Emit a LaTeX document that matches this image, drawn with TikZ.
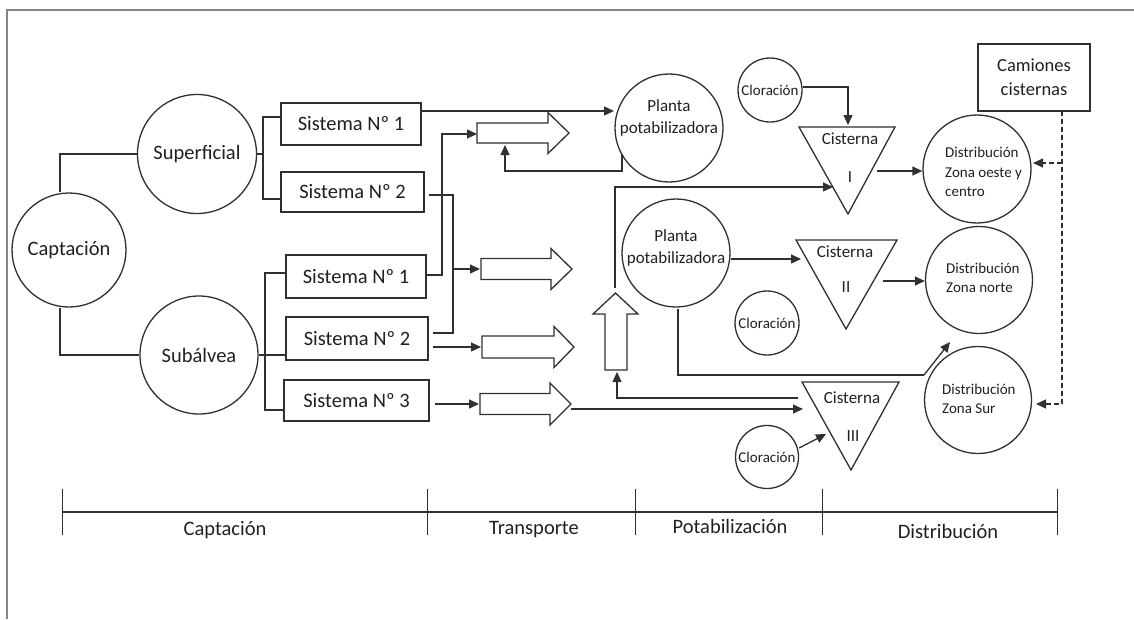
\documentclass[tikz,border=0pt]{standalone}
\usepackage{fontspec}
\setmainfont{Carlito}
\usetikzlibrary{arrows.meta}
\definecolor{lc}{HTML}{303030}
\definecolor{tc}{HTML}{202020}
\definecolor{fr}{HTML}{858585}
\newcommand\fsMain{\fontsize{20.5}{24}\selectfont}
\newcommand\fsPlanta{\fontsize{17}{22}\selectfont}
\newcommand\fsCis{\fontsize{17}{20}\selectfont}
\newcommand\fsClo{\fontsize{15}{18}\selectfont}
\newcommand\fsDist{\fontsize{15}{19.5}\selectfont}
\newcommand\fsCam{\fontsize{18.5}{24}\selectfont}
\begin{document}
\begin{tikzpicture}[x=1pt,y=-1pt,
  ln/.style={draw=lc, line width=1.3pt},
  arr/.style={ln, -{Triangle[length=10pt,width=9pt]}},
  darr/.style={ln, dash pattern=on 5pt off 3pt, -{Triangle[length=10pt,width=9pt]}},
  circ/.style={circle, draw=lc, line width=1.3pt, inner sep=0pt, text=tc},
  sbox/.style={rectangle, draw=lc, line width=1.3pt, inner sep=0pt, text=tc, font=\fsMain},
  blk/.style={draw=lc, line width=1.3pt, fill=white},
  txt/.style={inner sep=0pt, text=tc}]
\useasboundingbox (0,0) rectangle (1134,619);
% frame
\draw[fr, line width=2pt] (7,619) -- (7,10) -- (1134,10);

% capture nodes
\node[circ, minimum size=114pt, font=\fsMain] (cap) at (69,250) {Captación};
\node[circ, minimum size=119pt, font=\fsMain] (sup) at (197,154) {Superficial};
\node[circ, minimum size=118pt, font=\fsMain] (sub) at (199,355) {Subálvea};
\node[sbox, minimum width=140pt, minimum height=42pt] (s1) at (351,124) {Sistema Nº 1};
\node[sbox, minimum width=143pt, minimum height=40pt] (s2) at (352.5,192) {Sistema Nº 2};
\node[sbox, minimum width=140pt, minimum height=43pt] (t1) at (356,276.5) {Sistema Nº 1};
\node[sbox, minimum width=142pt, minimum height=43pt] (t2) at (357,338.5) {Sistema Nº 2};
\node[sbox, minimum width=145pt, minimum height=41pt] (t3) at (356.5,400.5) {Sistema Nº 3};

% plants
\node[circ, minimum size=108pt] (pl1) at (669,128) {};
\node[txt, align=center, font=\fsPlanta] (pl1t) at (669,118) {Planta\\potabilizadora};
\node[circ, minimum size=108pt] (pl2) at (676,253) {};
\node[txt, align=center, font=\fsPlanta] (pl2t) at (676,248) {Planta\\potabilizadora};

% cloracion
\node[circ, minimum size=64pt, font=\fsClo] (cl1) at (770,90) {Cloración};
\node[circ, minimum size=64pt, font=\fsClo] (cl2) at (767,323) {Cloración};
\node[circ, minimum size=63pt, font=\fsClo] (cl3) at (767,457) {Cloración};

% cisternas (inverted triangles)
\draw[ln] (799,127) -- (895,127) -- (848,214) -- cycle;
\draw[ln] (796,240) -- (897,240) -- (846,329) -- cycle;
\draw[ln] (802,382) -- (899,382) -- (851,470) -- cycle;
\node[txt, font=\fsCis] (cis1) at (850,139) {Cisterna};
\node[txt, font=\fsCis] (cis1n) at (850,177) {I};
\node[txt, font=\fsCis] (cis2) at (845,252) {Cisterna};
\node[txt, font=\fsCis] (cis2n) at (846,287) {II};
\node[txt, font=\fsCis] (cis3) at (852,398) {Cisterna};
\node[txt, font=\fsCis] (cis3n) at (853,436) {III};

% distribution
\node[circ, minimum size=108pt] (d1) at (977,169) {};
\node[txt, align=left, anchor=west, font=\fsDist] (d1t) at (945,172) {Distribución\\Zona oeste y\\centro};
\node[circ, minimum size=107pt] (d2) at (979,280) {};
\node[txt, align=left, anchor=west, font=\fsDist] (d2t) at (946,278) {Distribución\\Zona norte};
\node[circ, minimum size=107pt] (d3) at (978,400) {};
\node[txt, align=left, anchor=west, font=\fsDist] (d3t) at (942,399) {Distribución\\Zona Sur};

% camiones
\node[sbox, font=\fsCam, align=center, minimum width=112pt, minimum height=67pt] (cam) at (1034,77.5) {Camiones\\cisternas};

% block arrows
\draw[blk] (477,123) -- (548,123) -- (548,112.5) -- (569,133) -- (548,153.5) -- (548,143) -- (477,143) -- cycle;
\draw[blk] (481,258.5) -- (551,258.5) -- (551,248.5) -- (572,269) -- (551,289.5) -- (551,279.5) -- (481,279.5) -- cycle;
\draw[blk] (482,336) -- (554,336) -- (554,326.5) -- (574,347) -- (554,367.5) -- (554,358) -- (482,358) -- cycle;
\draw[blk] (480,393.5) -- (550,393.5) -- (550,383) -- (571,404) -- (550,425) -- (550,414.5) -- (480,414.5) -- cycle;
\draw[blk] (605,370) -- (605,314) -- (593,314) -- (615.5,293) -- (638,314) -- (627,314) -- (627,370) -- cycle;
\coordinate (ba1) at (477,134);
\coordinate (ba1b) at (505,145);
\coordinate (ba2) at (480,269);
\coordinate (ba3) at (481,347);
\coordinate (ba4) at (479,404);
\coordinate (ba4t) at (571,409);
\coordinate (vab) at (617,372);
\coordinate (vat) at (615,288);

% connectors: captacion
\draw[ln] ([xshift=-9pt]cap.north) |- (sup.west);
\draw[ln] ([xshift=-9pt]cap.south) |- (sub.west);
\coordinate (bsup) at (263,154);
\draw[ln] (sup.east) -- (bsup);
\draw[ln] ([yshift=7pt]s1.west) -| (bsup) |- ([yshift=-7pt]s2.west);
\coordinate (bsub) at (265,355);
\draw[ln] (sub.east) -- (bsub);
\draw[ln] ([yshift=3.5pt]t1.west) -| (bsub) |- ([yshift=-9.5pt]t3.west);
\draw[ln] (bsub) -- ([yshift=-16.5pt]t2.west);

% transport
\coordinate (s1o) at (421,111);
\coordinate (pl1w) at (614,111);
\draw[arr] (s1o) -- (pl1w);
\coordinate (t1o) at (426,275);
\draw[arr] (t1o) -- (442,275) |- (ba1);
\coordinate (s2o) at (429,195);
\coordinate (t2o) at (433,333);
\draw[ln] (s2o) -- (453,195) |- (t2o);
\coordinate (jn) at (453,269);
\draw[arr] (jn) -- (ba2);
\coordinate (t2p) at (433,347);
\draw[arr] (t2p) -- (ba3);
\coordinate (t3o) at (435,404);
\draw[arr] (t3o) -- (ba4);
\coordinate (pl1b) at (622,154);
\draw[arr] (pl1b) |- (505,171) -- (ba1b);

% potabilizacion
\coordinate (cis3w) at (803,409);
\draw[arr] (ba4t) -- (cis3w);
\coordinate (cis3l) at (798,398);
\draw[arr] (cis3l) -| (vab);
\coordinate (cis1w) at (833,187);
\draw[arr] (vat) |- (cis1w);
\coordinate (cis2w) at (801,259);
\draw[arr] (pl2.east |- cis2w) -- (cis2w);
\coordinate (pl2b) at (678,309);
\coordinate (kn) at (924,375);
\coordinate (d2sw) at (950,342);
\draw[ln] (pl2b) |- (kn);
\draw[arr] (kn) -- (d2sw);
\coordinate (cis1top) at (848,125);
\draw[arr] (cl1.east |- 0,87) -| (cis1top);
\coordinate (cis3l2) at (826,434);
\draw[arr] (cl3.east |- 0,448) -- (cis3l2);

% distribution
\coordinate (cis1e) at (877,171);
\draw[arr] (cis1e) -- (d1.west |- cis1e);
\coordinate (cis2e) at (883,281);
\draw[arr] (cis2e) -- (d2.west |- cis2e);
\coordinate (camb) at (1062,111);
\coordinate (dl) at (1062,404);
\draw[darr] (camb) -- (dl) -- (1036,404);
\coordinate (dm) at (1062,163);
\draw[darr] (dm) -- (1033,163);

% timeline
\coordinate (k0) at (62,512);
\coordinate (k1) at (427,512);
\coordinate (k2) at (635,512);
\coordinate (k3) at (822,512);
\coordinate (k4) at (1057,512);
\draw[ln, line width=1.8pt] (k0) -- (k4);
\foreach \k in {k0,k1,k2,k3,k4} \draw[ln, line width=1pt] ([yshift=23pt]\k) -- ([yshift=-23pt]\k);
\node[txt, font=\fsMain] (lc) at (225,530) {Captación};
\node[txt, font=\fsMain] (lt) at (534,530) {Transporte};
\node[txt, font=\fsMain] (lp) at (730,526) {Potabilización};
\node[txt, font=\fsMain] (ld) at (948,531) {Distribución};
\end{tikzpicture}
\end{document}
